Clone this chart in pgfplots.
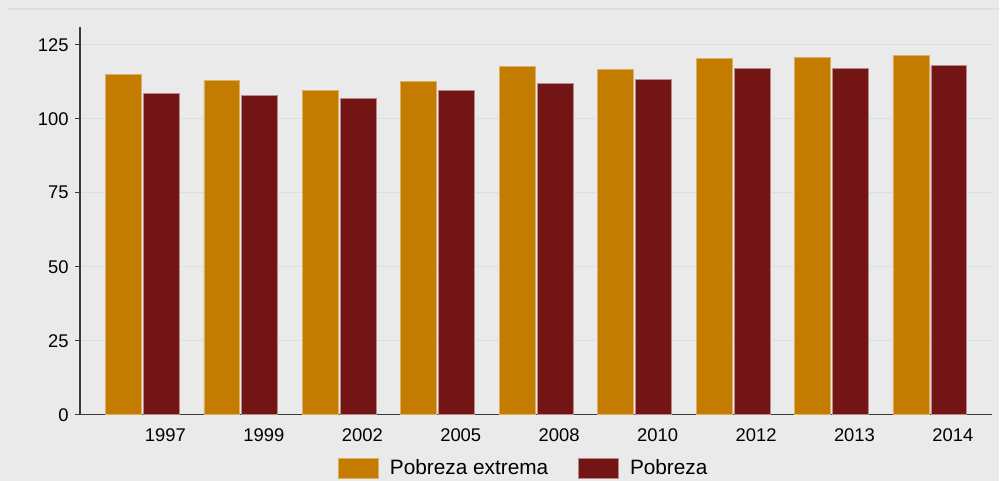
\documentclass[border=0pt]{standalone}
\usepackage{fontspec}
\setmainfont{Liberation Sans}
\usepackage{pgfplots}
\pgfplotsset{compat=1.18}
\definecolor{bgc}{HTML}{EAEAEA}
\definecolor{gridc}{HTML}{D8E0E0}
\definecolor{axc}{HTML}{3A3A3A}
\definecolor{orangec}{HTML}{C47C00}
\definecolor{redc}{HTML}{731515}
\begin{document}
\begin{tikzpicture}
\fill[bgc] (-40pt,-33pt) rectangle (460pt,207.5pt);
\draw[gridc, line width=0.6pt] (-36pt,203pt) -- (460pt,203pt);
\begin{axis}[
  at={(0,0)}, anchor=south west,
  scale only axis, width=456.5pt, height=194pt,
  xmin=-0.635, xmax=8.635, ymin=0, ymax=131,
  ybar=1pt, bar width=18pt,
  axis x line*=bottom, axis y line*=left,
  axis line style={draw=axc, line width=0.6pt, -},
  xtick={0,...,8},
  xticklabels={1997,1999,2002,2005,2008,2010,2012,2013,2014},
  x tick style={draw=none},
  xticklabel style={xshift=11.5pt, yshift=-1pt},
  ytick={0,25,50,75,100,125},
  tick align=outside, major tick length=2.5pt,
  y tick style={draw=axc, line width=0.6pt},
  yticklabel style={inner sep=0pt, xshift=-3pt},
  ymajorgrids, grid style={gridc, line width=0.6pt},
  ticklabel style={font=\fontsize{9.2}{11}\selectfont},
  /pgf/number format/assume math mode=true,
  legend columns=2,
  legend style={at={(0.2826,-0.139)}, anchor=west, draw=none, fill=none,
    inner sep=0pt, font=\fontsize{10.4}{12}\selectfont,
    nodes={inner sep=0pt, anchor=west},
    /tikz/every odd column/.append style={column sep=5.5pt},
    /tikz/every even column/.append style={column sep=15pt}},
  legend image code/.code={\draw[#1, line width=0.4pt] (0pt,-5pt) rectangle (20pt,5pt);},
]
\addplot[fill=orangec, draw=orangec!60!white, line width=0.4pt] coordinates {
(0,114.9) (1,112.8) (2,109.6) (3,112.7) (4,117.8) (5,116.7) (6,120.4) (7,120.8) (8,121.4)};
\addplot[fill=redc, draw=redc!50!white, line width=0.4pt] coordinates {
(0,108.4) (1,107.8) (2,106.9) (3,109.6) (4,111.9) (5,113.3) (6,117.0) (7,117.0) (8,118.0)};
\legend{Pobreza extrema, Pobreza}
\end{axis}
\end{tikzpicture}
\end{document}
